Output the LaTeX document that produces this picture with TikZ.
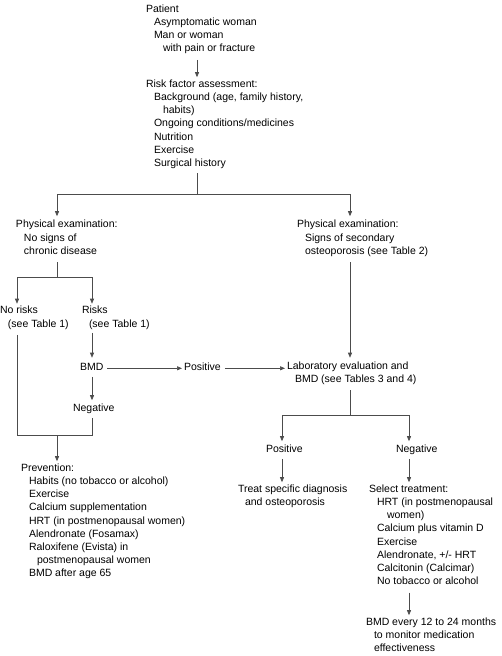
\documentclass[tikz,border=0pt]{standalone}
\usepackage{fontspec}
\setmainfont{Liberation Sans}
\usetikzlibrary{arrows.meta,calc}
\begin{document}
\begin{tikzpicture}[x=1pt,y=-1pt,
  txt/.style={anchor=north west, inner sep=0pt, outer sep=0pt, align=left, yshift=9.3pt,
    font=\fontsize{10.5}{13.2}\selectfont, text=black,
    execute at begin node=\strut, execute at end node=\strut},
  ln/.style={draw=black!70, line width=0.6pt},
  arr/.style={ln, -{Triangle[length=5pt,width=4pt]}, shorten >=2.5pt},
]
\fill[white] (0,0) rectangle (501,656);
\useasboundingbox (0,0) rectangle (501,656);

% text blocks (positions = first baseline)
\node[txt] (patient) at (146,14) {Patient\\\hspace*{8pt}Asymptomatic woman\\\hspace*{8pt}Man or woman\\\hspace*{17pt}with pain or fracture};
\node[txt] (risk) at (146,89) {Risk factor assessment:\\\hspace*{8pt}Background (age, family history,\\\hspace*{17pt}habits)\\\hspace*{8pt}Ongoing conditions/medicines\\\hspace*{8pt}Nutrition\\\hspace*{8pt}Exercise\\\hspace*{8pt}Surgical history};
\node[txt] (peL) at (16,229.5) {Physical examination:\\\hspace*{8pt}No signs of\\\hspace*{8pt}chronic disease};
\node[txt] (peR) at (297,229.5) {Physical examination:\\\hspace*{8pt}Signs of secondary\\\hspace*{8pt}osteoporosis (see Table 2)};
\node[txt] (norisk) at (0,315.5) {No risks\\\hspace*{8pt}(see Table 1)};
\node[txt] (risks) at (82,315.5) {Risks\\\hspace*{7pt}(see Table 1)};
\node[txt] (bmd) at (80,371) {BMD};
\node[txt] (posA) at (184,371) {Positive};
\node[txt] (lab) at (287,371) {Laboratory evaluation and\\\hspace*{8pt}BMD (see Tables 3 and 4)};
\node[txt] (negA) at (73,412) {Negative};
\node[txt] (prev) at (21,473) {Prevention:\\\hspace*{8pt}Habits (no tobacco or alcohol)\\\hspace*{8pt}Exercise\\\hspace*{8pt}Calcium supplementation\\\hspace*{8pt}HRT (in postmenopausal women)\\\hspace*{8pt}Alendronate (Fosamax)\\\hspace*{8pt}Raloxifene (Evista) in\\\hspace*{16pt}postmenopausal women\\\hspace*{8pt}BMD after age 65};
\node[txt] (posB) at (266,453) {Positive};
\node[txt] (negB) at (396,453) {Negative};
\node[txt] (treat) at (238,494) {Treat specific diagnosis\\\hspace*{7pt}and osteoporosis};
\node[txt] (select) at (369,494) {Select treatment:\\\hspace*{8pt}HRT (in postmenopausal\\\hspace*{18pt}women)\\\hspace*{8pt}Calcium plus vitamin D\\\hspace*{8pt}Exercise\\\hspace*{8pt}Alendronate, +/- HRT\\\hspace*{8pt}Calcitonin (Calcimar)\\\hspace*{8pt}No tobacco or alcohol};
\node[txt] (follow) at (366,627) {BMD every 12 to 24 months\\\hspace*{8pt}to monitor medication\\\hspace*{8pt}effectiveness};

% junction coordinates
\coordinate (cTop) at (197,194);
\coordinate (cL) at (57,194);
\coordinate (cR) at (350,194);
\coordinate (cL2) at (57,277);
\coordinate (cA) at (17,0);
\coordinate (cB) at (92,0);
\coordinate (cM) at (57,435);
\coordinate (cR2) at (350,415);
\coordinate (cC) at (282,0);
\coordinate (cD) at (409,0);

% connectors
\draw[arr, shorten <=4pt] (patient.south -| cTop) -- (risk.north -| cTop);
\draw[ln, shorten <=3pt] (risk.south -| cTop) -- (cTop);
\draw[arr, shorten >=4pt] (cTop) -| (peL.north -| cL);
\draw[arr, shorten >=4pt] (cTop) -| (peR.north -| cR);
\draw[ln, shorten <=4pt] (peL.south -| cL2) -- (cL2);
\draw[arr] (cL2) -| (norisk.north -| cA);
\draw[arr] (cL2) -| (risks.north -| cB);
\draw[arr, shorten <=2pt, shorten >=4pt] (risks.south -| cB) -- (bmd.north -| cB);
\draw[arr, shorten <=4pt, shorten >=2pt] (bmd.east) -- (posA.west);
\draw[arr, shorten <=4pt, shorten >=2pt] (posA.east) -- (posA.east -| lab.west);
\draw[arr, shorten <=2pt] (bmd.south -| cB) -- (negA.north -| cB);
\draw[ln, shorten <=4pt] (norisk.south -| cA) |- (cM);
\draw[ln, shorten <=2pt] (negA.south -| cB) |- (cM);
\draw[arr] (cM) -- (prev.north -| cM);
\draw[arr, shorten <=4pt, shorten >=4pt] (peR.south -| cR) -- (lab.north -| cR);
\draw[ln, shorten <=4pt] (lab.south -| cR2) -- (cR2);
\draw[arr] (cR2) -| (posB.north -| cC);
\draw[arr] (cR2) -| (negB.north -| cD);
\draw[arr, shorten <=2pt] (posB.south -| cC) -- (treat.north -| cC);
\draw[arr, shorten <=2pt] (negB.south -| cD) -- (select.north -| cD);
\draw[arr, shorten <=4pt] (select.south -| cD) -- (follow.north -| cD);
\end{tikzpicture}
\end{document}
